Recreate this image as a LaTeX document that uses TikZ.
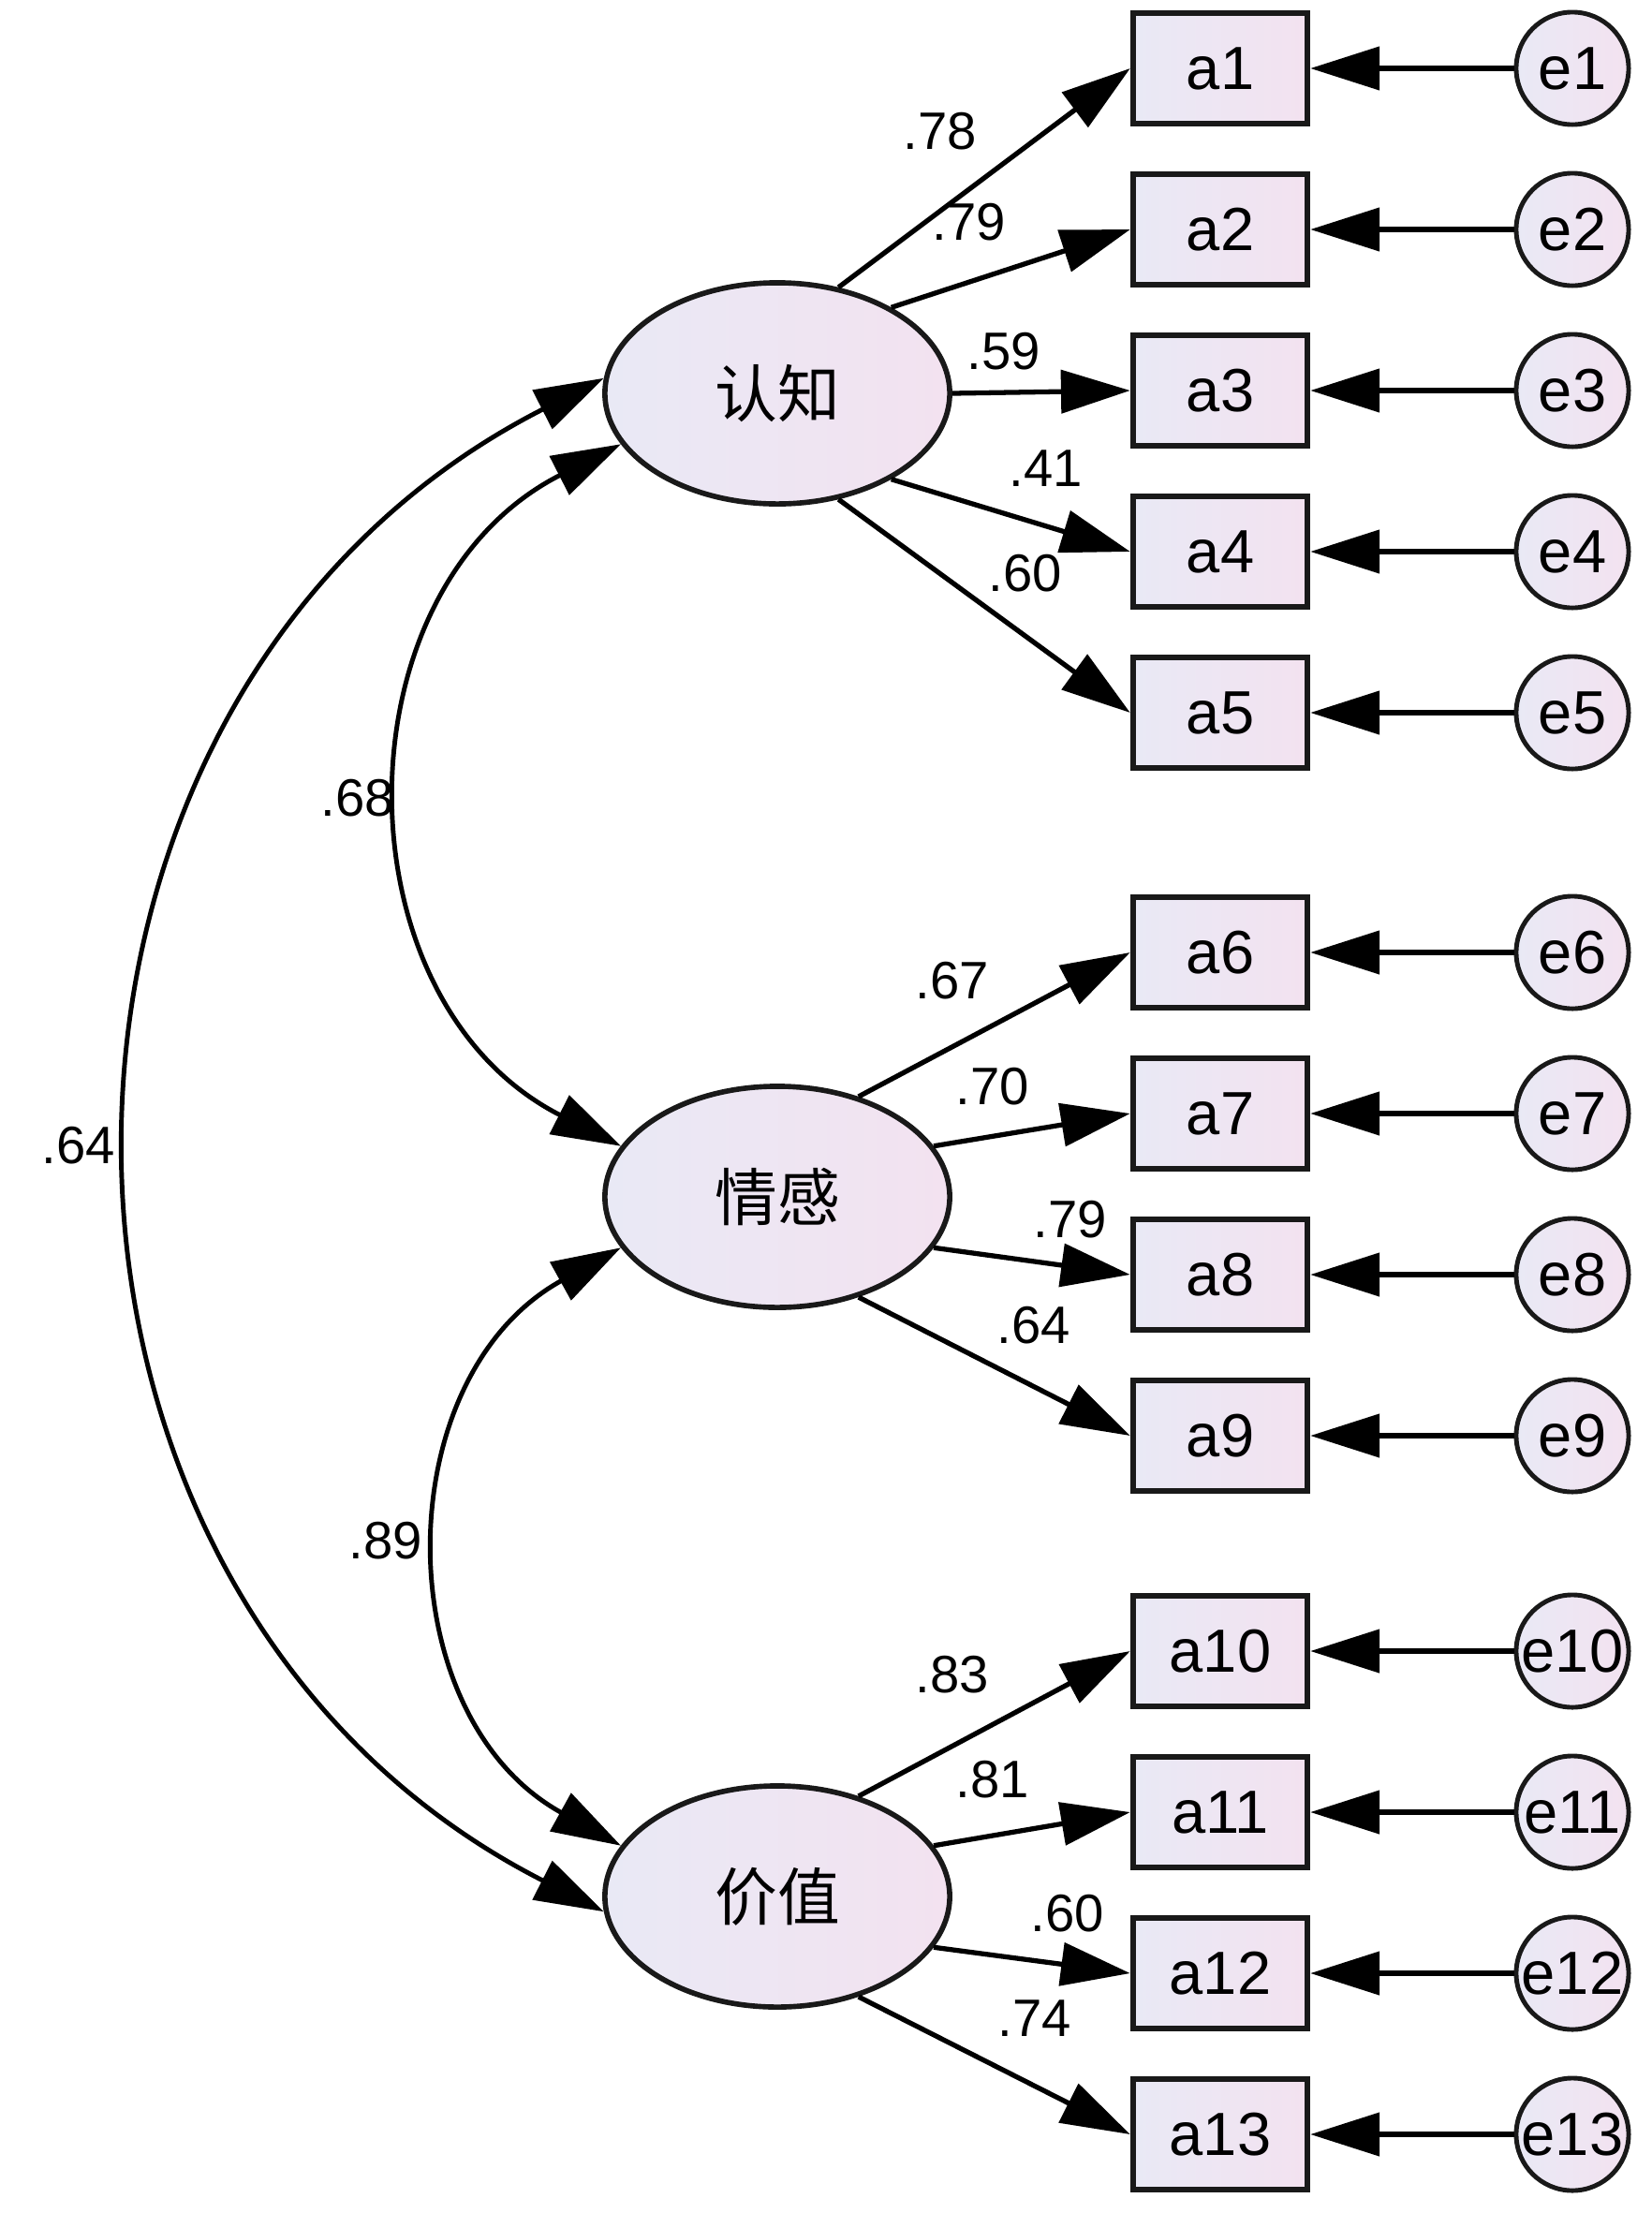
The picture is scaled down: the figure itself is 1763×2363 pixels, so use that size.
\documentclass[tikz,border=0pt]{standalone}
\usepackage{fontspec}
\setmainfont{Liberation Sans}
\newfontfamily\cjk{Noto Sans CJK SC}
\usetikzlibrary{arrows.meta,shapes.geometric}
\definecolor{lilacL}{RGB}{233,233,245}
\definecolor{lilacR}{RGB}{243,226,240}
\tikzset{
	obs/.style={draw=black!90, line width=1.8pt, left color=lilacL, right color=lilacR, minimum width=1.86cm, minimum height=1.18cm, inner sep=0pt, font=\fontsize{18.5}{18.5}\selectfont},
	err/.style={circle, draw=black!90, line width=1.4pt, left color=lilacL, right color=lilacR, minimum size=1.2cm, inner sep=0pt, font=\fontsize{18.5}{18.5}\selectfont},
	lat/.style={ellipse, draw=black!90, line width=1.6pt, left color=lilacL, right color=lilacR, minimum width=3.68cm, minimum height=2.36cm, inner sep=0pt, font=\cjk\fontsize{19}{19}\selectfont},
	load/.style={line width=1.5pt, -{Triangle[length=21pt,width=13pt]}},
	cov/.style={line width=1.4pt, {Triangle[length=21pt,width=13pt]}-{Triangle[length=21pt,width=13pt]}},
	coef/.style={font=\fontsize{16}{16}\selectfont, inner sep=0pt}
}

\begin{document}
\begin{tikzpicture}[x=0.01cm, y=0.01cm]
		%%%%% START %%%%%
		\useasboundingbox (0, 0) rectangle (1763, -2363);
		
		\node[lat] (cog) at (830, -420) {认知};
		\node[lat] (aff) at (830, -1278) {情感};
		\node[lat] (val) at (830, -2025) {价值};
		
		\node[obs] (a1) at (1303, -73) {a1};
		\node[obs] (a2) at (1303, -245) {a2};
		\node[obs] (a3) at (1303, -417) {a3};
		\node[obs] (a4) at (1303, -589) {a4};
		\node[obs] (a5) at (1303, -761) {a5};
		\node[obs] (a6) at (1303, -1017) {a6};
		\node[obs] (a7) at (1303, -1189) {a7};
		\node[obs] (a8) at (1303, -1361) {a8};
		\node[obs] (a9) at (1303, -1533) {a9};
		\node[obs] (a10) at (1303, -1763) {a10};
		\node[obs] (a11) at (1303, -1935) {a11};
		\node[obs] (a12) at (1303, -2107) {a12};
		\node[obs] (a13) at (1303, -2279) {a13};
		
		\node[err] (e1) at (1679, -73) {e1};
		\node[err] (e2) at (1679, -245) {e2};
		\node[err] (e3) at (1679, -417) {e3};
		\node[err] (e4) at (1679, -589) {e4};
		\node[err] (e5) at (1679, -761) {e5};
		\node[err] (e6) at (1679, -1017) {e6};
		\node[err] (e7) at (1679, -1189) {e7};
		\node[err] (e8) at (1679, -1361) {e8};
		\node[err] (e9) at (1679, -1533) {e9};
		\node[err] (e10) at (1679, -1763) {e10};
		\node[err] (e11) at (1679, -1935) {e11};
		\node[err] (e12) at (1679, -2107) {e12};
		\node[err] (e13) at (1679, -2279) {e13};
		
		% error terms
		\draw[load] (e1) -- (a1);
		\draw[load] (e2) -- (a2);
		\draw[load] (e3) -- (a3);
		\draw[load] (e4) -- (a4);
		\draw[load] (e5) -- (a5);
		\draw[load] (e6) -- (a6);
		\draw[load] (e7) -- (a7);
		\draw[load] (e8) -- (a8);
		\draw[load] (e9) -- (a9);
		\draw[load] (e10) -- (a10);
		\draw[load] (e11) -- (a11);
		\draw[load] (e12) -- (a12);
		\draw[load] (e13) -- (a13);
		
		% loadings
		\draw[load] (cog.60) -- (a1.west);
		\draw[load] (cog.37) -- (a2.west);
		\draw[load] (cog.0) -- (a3.west);
		\draw[load] (cog.-37) -- (a4.west);
		\draw[load] (cog.-60) -- (a5.west);
		\draw[load] (aff.51) -- (a6.west);
		\draw[load] (aff.18) -- (a7.west);
		\draw[load] (aff.-18) -- (a8.west);
		\draw[load] (aff.-51) -- (a9.west);
		\draw[load] (val.51) -- (a10.west);
		\draw[load] (val.18) -- (a11.west);
		\draw[load] (val.-18) -- (a12.west);
		\draw[load] (val.-51) -- (a13.west);
		
		\node[coef] (w1) at (1004, -140) {.78};
		\node[coef] (w2) at (1035, -237) {.79};
		\node[coef] (w3) at (1072, -375) {.59};
		\node[coef] (w4) at (1117, -500) {.41};
		\node[coef] (w5) at (1095, -612) {.60};
		\node[coef] (w6) at (1017, -1047) {.67};
		\node[coef] (w7) at (1060, -1160) {.70};
		\node[coef] (w8) at (1143, -1302) {.79};
		\node[coef] (w9) at (1104, -1415) {.64};
		\node[coef] (w10) at (1017, -1788) {.83};
		\node[coef] (w11) at (1060, -1900) {.81};
		\node[coef] (w12) at (1140, -2043) {.60};
		\node[coef] (w13) at (1105, -2155) {.74};
		
		% covariances
		\draw[cov] (cog.198) to[out=207, in=153, looseness=1.17] (aff.162);
		\draw[cov] (cog.175) to[out=207, in=153, looseness=1.17] (val.185);
		\draw[cov] (aff.198) to[out=209, in=151, looseness=1.15] (val.162);
		
		\node[coef] (r1) at (382, -852) {.68};
		\node[coef] (r2) at (84, -1223) {.64};
		\node[coef] (r3) at (412, -1645) {.89};
		
		%%%%% END %%%%%
	\end{tikzpicture}
\end{document}
